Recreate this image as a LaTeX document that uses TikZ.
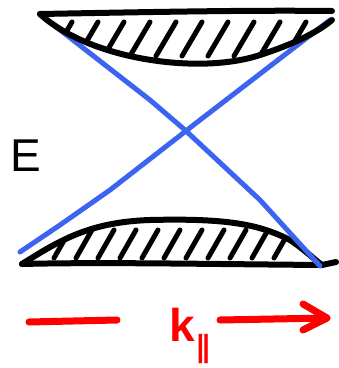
\documentclass[tikz,border=0pt]{standalone}
\usepackage{fontspec}
\setmainfont{Liberation Sans}
\newfontfamily\dvsans{DejaVu Sans}
\usetikzlibrary{arrows.meta}
\begin{document}
\begin{tikzpicture}[x=1pt,y=-1pt,
  capline/.style={draw=black,line width=6pt,line cap=round,line join=round},
  hatch/.style={draw=black,line width=5pt,line cap=round},
  band/.style={draw={rgb,255:red,60;green,100;blue,240},line width=5pt,line cap=round},
  axis/.style={draw=red,line width=7pt,line cap=round}]
\useasboundingbox (0,0) rectangle (339,368);
% top cap
\coordinate (tl) at (40,14);
\coordinate (tr) at (332,11);
\coordinate (tr2) at (332,20);
\begin{scope}
\clip (tl) .. controls (90,60) and (200,75) .. (260,55) .. controls (300,42) and (320,30) .. (tr2) -- (tr) -- cycle;
\foreach \x in {72,98,124,150,176,202,228,254,280,306,330}
  \draw[hatch] (\x,22) -- (\x-20,56);
\end{scope}
% bottom cap
\coordinate (bl) at (22,264);
\coordinate (br) at (322,265);
\begin{scope}
\clip (bl) .. controls (60,240) and (90,222) .. (150,220) .. controls (230,218) and (260,225) .. (290,240) .. controls (305,250) and (315,260) .. (br) -- cycle;
\foreach \x in {70,92,114,136,158,180,202,224,246,268,290}
  \draw[hatch] (\x,230) -- (\x-16,258);
\end{scope}
\draw[capline] (bl) .. controls (60,240) and (90,222) .. (150,220) .. controls (230,218) and (260,225) .. (290,240) .. controls (305,250) and (315,260) .. (br);
\draw[capline] (bl) .. controls (100,262) and (200,264) .. (br) -- (336,262);
% blue bands
\coordinate (b1a) at (55,26);
\coordinate (b1b) at (320,266);
\coordinate (b2a) at (330,20);
\coordinate (b2b) at (20,252);
\draw[band] (b1a) -- (150,100) -- (185,130) -- (260,200) -- (b1b);
\draw[band] (b2a) -- (200,120) -- (110,190) -- (60,225) -- (b2b);
% redraw top cap outline over blue
\draw[capline] (tl) .. controls (90,60) and (200,75) .. (260,55) .. controls (300,42) and (320,30) .. (tr2);
\draw[capline] (tl) .. controls (150,12) and (250,10) .. (tr);
% E label
\node[font=\fontsize{46}{46}\selectfont,anchor=center] (E) at (26,156) {E};
% red axis
\coordinate (r1) at (29,322);
\coordinate (r2) at (117,320);
\draw[axis] (r1) -- (r2);
\node[text=red,font=\fontsize{46}{46}\selectfont\bfseries,anchor=center,inner sep=0pt] (k) at (190,336) {k\raisebox{-0.35em}{\dvsans\bfseries\itshape\fontsize{30}{30}\selectfont ∥}};
\coordinate (a1) at (220,320);
\coordinate (a2) at (327,318);
\draw[axis] (a1) -- (a2);
\draw[axis,line join=round] (303,304) -- (a2) -- (303,330);
\end{tikzpicture}
\end{document}
